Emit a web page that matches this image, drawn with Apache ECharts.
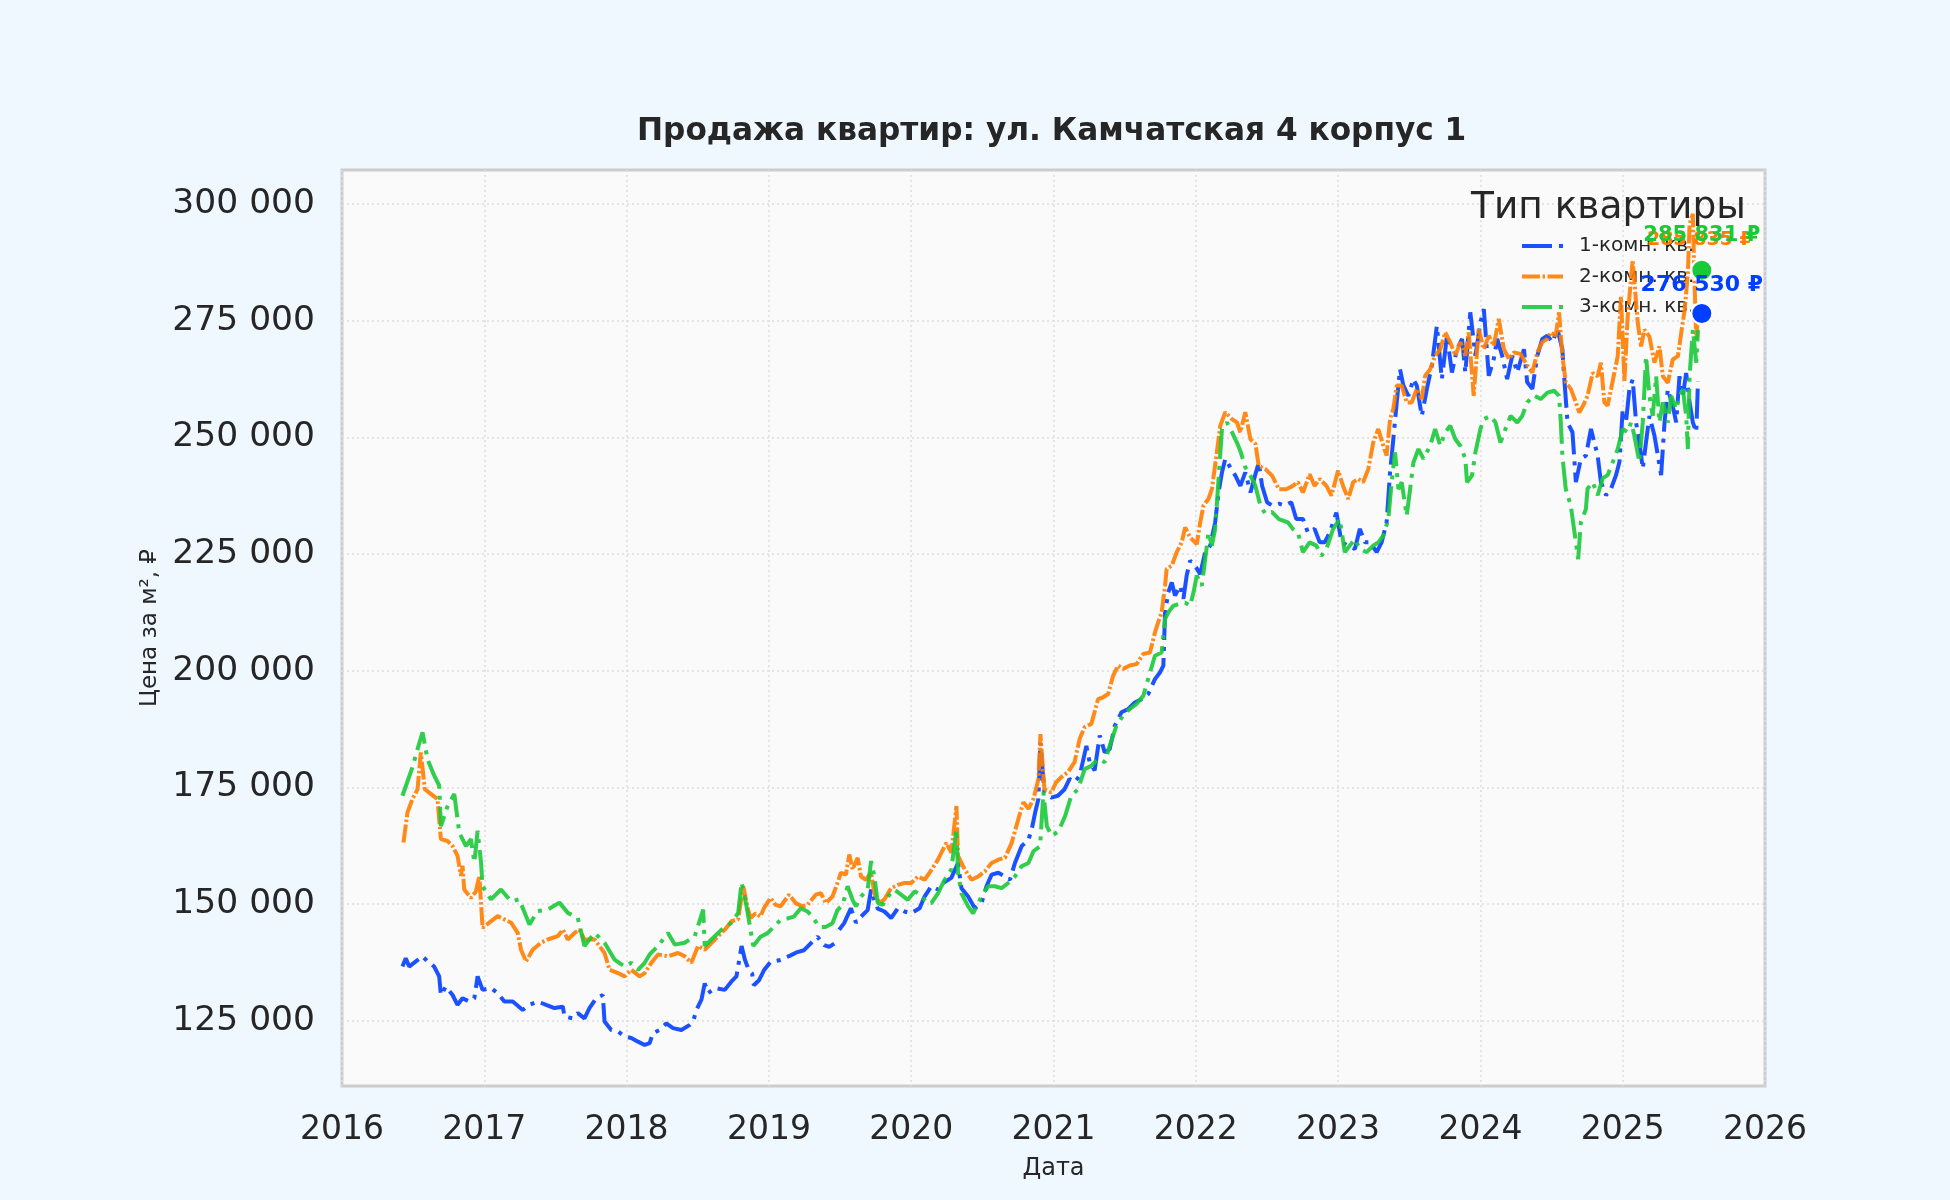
<!DOCTYPE html>
<html>
<head>
<meta charset="utf-8">
<title>Продажа квартир: ул. Камчатская 4 корпус 1</title>
<script src="https://cdn.jsdelivr.net/npm/echarts@6/dist/echarts.min.js"></script>
<style>
  html, body { margin: 0; padding: 0; background: #f0f8ff; }
  #chart { width: 1950px; height: 1200px; }
</style>
</head>
<body>
<div id="chart"></div>
<script>
// названия серий
var seriesNames = ['1-комн. кв.', '2-комн. кв.', '3-комн. кв.'];

// деления оси Y
var yTicks = [125000, 150000, 175000, 200000, 225000, 250000, 275000, 300000];

// 1-комн. кв. (годы в долях года, цена за м²)
var oneRoomYears = [
  2016.425, 2016.448, 2016.472, 2016.519, 2016.566, 2016.601, 2016.648, 2016.683, 2016.695, 2016.730,
  2016.777, 2016.812, 2016.847, 2016.894, 2016.930, 2016.953, 2016.988, 2017.047, 2017.094, 2017.141,
  2017.200, 2017.270, 2017.317, 2017.376, 2017.434, 2017.493, 2017.552, 2017.563, 2017.622, 2017.657,
  2017.704, 2017.739, 2017.786, 2017.833, 2017.845, 2017.892, 2017.939, 2017.986, 2018.033, 2018.080,
  2018.127, 2018.162, 2018.185, 2018.232, 2018.279, 2018.326, 2018.385, 2018.444, 2018.467, 2018.491,
  2018.526, 2018.549, 2018.573, 2018.620, 2018.690, 2018.737, 2018.772, 2018.808, 2018.831, 2018.859,
  2018.882, 2018.894, 2018.929, 2018.965, 2019.012, 2019.082, 2019.153, 2019.200, 2019.247, 2019.282,
  2019.341, 2019.388, 2019.424, 2019.459, 2019.480, 2019.494, 2019.529, 2019.576, 2019.612, 2019.647,
  2019.694, 2019.718, 2019.741, 2019.765, 2019.812, 2019.859, 2019.906, 2019.953, 2020.000, 2020.059,
  2020.094, 2020.141, 2020.188, 2020.224, 2020.282, 2020.329, 2020.353, 2020.400, 2020.447, 2020.494,
  2020.529, 2020.565, 2020.612, 2020.659, 2020.694, 2020.729, 2020.776, 2020.824, 2020.847, 2020.871,
  2020.894, 2020.908, 2020.936, 2020.984, 2021.031, 2021.078, 2021.113, 2021.148, 2021.184, 2021.231,
  2021.254, 2021.289, 2021.325, 2021.360, 2021.395, 2021.431, 2021.478, 2021.525, 2021.572, 2021.619,
  2021.666, 2021.713, 2021.748, 2021.772, 2021.784, 2021.807, 2021.831, 2021.854, 2021.889, 2021.913,
  2021.936, 2021.960, 2021.995, 2022.031, 2022.066, 2022.101, 2022.136, 2022.160, 2022.184, 2022.207,
  2022.242, 2022.278, 2022.313, 2022.348, 2022.384, 2022.419, 2022.442, 2022.466, 2022.501, 2022.536,
  2022.584, 2022.624, 2022.671, 2022.706, 2022.753, 2022.788, 2022.835, 2022.871, 2022.906, 2022.941,
  2022.988, 2023.024, 2023.071, 2023.118, 2023.153, 2023.188, 2023.224, 2023.271, 2023.306, 2023.341,
  2023.365, 2023.388, 2023.412, 2023.435, 2023.459, 2023.494, 2023.529, 2023.553, 2023.588, 2023.624,
  2023.659, 2023.694, 2023.729, 2023.765, 2023.800, 2023.835, 2023.871, 2023.894, 2023.929, 2023.965,
  2024.000, 2024.024, 2024.059, 2024.094, 2024.118, 2024.153, 2024.188, 2024.224, 2024.259, 2024.306,
  2024.329, 2024.365, 2024.400, 2024.435, 2024.471, 2024.506, 2024.541, 2024.576, 2024.588, 2024.612,
  2024.647, 2024.671, 2024.706, 2024.742, 2024.777, 2024.800, 2024.824, 2024.847, 2024.883, 2024.918,
  2024.953, 2024.977, 2025.000, 2025.023, 2025.047, 2025.070, 2025.094, 2025.117, 2025.141, 2025.164,
  2025.188, 2025.223, 2025.247, 2025.270, 2025.294, 2025.317, 2025.352, 2025.376, 2025.399, 2025.423,
  2025.446, 2025.470, 2025.493, 2025.517, 2025.529
];
var oneRoomPrices = [
  136600, 138400, 136600, 137700, 138800, 137700, 136600, 134500, 130500, 132300,
  130500, 128400, 129800, 129100, 129800, 134500, 131600, 132000, 130900, 129100,
  129100, 127300, 128400, 129100, 128400, 127700, 128000, 125900, 125500, 126600,
  125500, 127700, 129800, 130500, 124800, 123000, 122700, 121600, 121300, 120500,
  119800, 120200, 122300, 123000, 124400, 123400, 123000, 124100, 124800, 127300,
  129500, 133000, 130900, 132000, 131600, 133400, 134500, 141000, 138100, 135800,
  135100, 132600, 133600, 135800, 137600, 138000, 139000, 139700, 140100, 141200,
  143000, 141200, 140800, 141500, null, 144500, 145900, 149100, 146000, 147300,
  148700, 153100, 150900, 149000, 148400, 147000, 149100, 148400, 148000, 149100,
  151600, 153800, 153100, 154500, 155600, 158800, 153400, 151600, 149100, 150200,
  153800, 156300, 156700, 155900, 155200, 158800, 162400, 163800, 166000, 169600,
  172500, 184600, 173900, 172800, 173200, 174600, 176800, 176100, 177500, 183900,
  180400, 178600, 186100, 182500, 183200, 188200, 191100, 191800, 193200, 193900,
  195000, 198200, 199600, 201100, 212500, 216800, 218900, 216100, 218200, 215400,
  220400, 223600, 222500, 220700, 225400, 226800, 231800, 238200, 242500, 245400,
  243600, 241800, 239600, 242500, 238200, 242100, 244600, 239600, 236100, 235400,
  235800, 235400, 236100, 232500, 232500, 229600, 230400, 227500, 227500, 229600,
  233900, 227500, 226800, 226100, 230400, 227500, 227500, 225400, 227500, 231800,
  242500, 249600, 257500, 264600, 261100, 258900, 262500, 261100, 254600, 260400,
  265400, 273900, 262500, 271800, 263900, 268900, 271100, 263900, 276800, 267500,
  274600, 277500, 263200, 266800, 271100, 267500, 262500, 267500, 263900, 268900,
  261800, 260400, 267500, 271100, 271800, 270400, 273200, 268900, 263200, 253200,
  251100, 240400, 245400, 246100, 251800, 249000, 246100, 240400, 237600, 239000,
  241900, 244700, 256000, 253200, 260300, 262400, 253200, 249000, 243300, 249000,
  254600, 250400, 246100, 241900, 253200, 260300, 256700, 253200, 263100, 258900,
  263800, 257500, 253200, 251100, 262000
];

// 2-комн. кв.
var twoRoomYears = [
  2016.432, 2016.460, 2016.495, 2016.531, 2016.554, 2016.582, 2016.624, 2016.671, 2016.695, 2016.742,
  2016.777, 2016.812, 2016.836, 2016.847, 2016.859, 2016.906, 2016.941, 2016.965, 2016.988, 2017.035,
  2017.094, 2017.141, 2017.188, 2017.235, 2017.258, 2017.293, 2017.340, 2017.399, 2017.446, 2017.516,
  2017.552, 2017.587, 2017.634, 2017.669, 2017.704, 2017.775, 2017.845, 2017.880, 2017.939, 2017.986,
  2018.033, 2018.092, 2018.127, 2018.174, 2018.221, 2018.291, 2018.362, 2018.408, 2018.455, 2018.502,
  2018.549, 2018.620, 2018.690, 2018.737, 2018.784, 2018.819, 2018.854, 2018.871, 2018.906, 2018.941,
  2018.965, 2019.012, 2019.047, 2019.082, 2019.141, 2019.188, 2019.235, 2019.271, 2019.329, 2019.365,
  2019.400, 2019.447, 2019.482, 2019.506, 2019.541, 2019.565, 2019.588, 2019.624, 2019.647, 2019.682,
  2019.718, 2019.741, 2019.776, 2019.812, 2019.859, 2019.906, 2019.953, 2020.000, 2020.047, 2020.094,
  2020.129, 2020.188, 2020.247, 2020.282, 2020.318, 2020.329, 2020.376, 2020.424, 2020.471, 2020.518,
  2020.565, 2020.612, 2020.659, 2020.706, 2020.753, 2020.788, 2020.824, 2020.859, 2020.894, 2020.908,
  2020.936, 2020.984, 2021.019, 2021.066, 2021.101, 2021.148, 2021.184, 2021.219, 2021.266, 2021.313,
  2021.348, 2021.384, 2021.419, 2021.454, 2021.489, 2021.536, 2021.584, 2021.631, 2021.678, 2021.713,
  2021.736, 2021.760, 2021.784, 2021.795, 2021.831, 2021.866, 2021.901, 2021.925, 2021.960, 2022.007,
  2022.031, 2022.054, 2022.089, 2022.113, 2022.148, 2022.172, 2022.207, 2022.254, 2022.289, 2022.313,
  2022.348, 2022.384, 2022.419, 2022.442, 2022.489, 2022.536, 2022.584, 2022.635, 2022.682, 2022.718,
  2022.753, 2022.800, 2022.835, 2022.871, 2022.918, 2022.953, 2023.000, 2023.035, 2023.071, 2023.106,
  2023.141, 2023.176, 2023.212, 2023.247, 2023.282, 2023.318, 2023.341, 2023.365, 2023.388, 2023.412,
  2023.447, 2023.482, 2023.518, 2023.553, 2023.588, 2023.612, 2023.647, 2023.682, 2023.718, 2023.753,
  2023.788, 2023.824, 2023.859, 2023.894, 2023.918, 2023.953, 2023.988, 2024.024, 2024.059, 2024.094,
  2024.129, 2024.165, 2024.200, 2024.235, 2024.282, 2024.329, 2024.365, 2024.400, 2024.435, 2024.471,
  2024.494, 2024.529, 2024.553, 2024.576, 2024.600, 2024.635, 2024.671, 2024.695, 2024.730, 2024.753,
  2024.789, 2024.824, 2024.847, 2024.871, 2024.894, 2024.918, 2024.941, 2024.965, 2024.988, 2025.012,
  2025.035, 2025.070, 2025.106, 2025.129, 2025.153, 2025.188, 2025.223, 2025.258, 2025.282, 2025.317,
  2025.352, 2025.388, 2025.411, 2025.435, 2025.458, 2025.470, 2025.493, 2025.505, 2025.517, 2025.529
];
var twoRoomPrices = [
  163200, 169600, 172500, 174600, 182500, 174600, 173600, 172500, 163900, 163500,
  162400, 160300, 156000, 158200, 153100, 151300, 152700, 156000, 144900, 146000,
  147400, 146700, 146000, 143800, 140200, 137700, 140200, 141700, 142400, 143100,
  144500, 142400, 143800, 144500, 142400, 142400, 139500, 135900, 135200, 134500,
  135900, 134500, 135200, 137400, 139200, 138800, 139500, 138800, 137400, 141000,
  140200, 142400, 144500, 146300, 146700, 153800, 148800, 147000, 148000, 147300,
  149100, 151300, 149800, 149500, 152000, 150200, 149500, 149800, 152000, 152300,
  150200, 151600, 154500, 156700, 156300, 160600, 157400, 159900, 155900, 155200,
  156700, 152300, 150200, 151000, 153400, 154100, 154500, 154500, 155900, 155200,
  156700, 159500, 163100, 161000, 171000, 160300, 157400, 155200, 155900, 157000,
  158800, 159500, 159900, 163100, 168200, 171800, 170400, 172500, 176800, 186400,
  174600, 173900, 176100, 177500, 178200, 180400, 185400, 187900, 188600, 193900,
  194300, 195000, 198900, 201100, 200400, 201100, 201400, 203600, 203900, 208200,
  210400, 212500, 218200, 221800, 222500, 225400, 227500, 230700, 228600, 227100,
  231800, 235400, 236800, 238900, 246800, 252500, 255400, 253900, 253200, 251100,
  255400, 249600, 248600, 243900, 243200, 241800, 238900, 238900, 239600, 240400,
  238200, 242100, 239600, 241100, 239600, 237500, 242900, 239600, 236800, 240400,
  241100, 240400, 243200, 248900, 251800, 248200, 246100, 253900, 256100, 261100,
  261100, 257500, 257500, 260400, 258200, 263200, 264600, 267500, 268900, 272500,
  270400, 267500, 270400, 267500, 272500, 258900, 273200, 268900, 271800, 269600,
  275400, 268900, 266800, 268200, 267900, 265400, 263900, 268200, 270400, 271100,
  272500, 271800, 276800, 267500, 261800, 260400, 257500, 255300, 257300, 258900,
  263800, 263100, 266000, 257500, 256800, 260300, 263800, 267400, 280100, 262000,
  275900, 288000, 274500, 269500, 273100, 271600, 266000, 269500, 263100, 261700,
  266700, 267400, 272300, 277300, 285100, 295700, 297900, 283000, 270900, 276000
];

// 3-комн. кв.
var threeRoomYears = [
  2016.425, 2016.495, 2016.531, 2016.566, 2016.601, 2016.648, 2016.683, 2016.695, 2016.742, 2016.789,
  2016.824, 2016.871, 2016.906, 2016.930, 2016.953, 2016.977, 2016.988, 2017.047, 2017.117, 2017.188,
  2017.246, 2017.317, 2017.376, 2017.446, 2017.528, 2017.587, 2017.657, 2017.704, 2017.775, 2017.845,
  2017.915, 2017.986, 2018.033, 2018.080, 2018.127, 2018.162, 2018.221, 2018.291, 2018.338, 2018.408,
  2018.479, 2018.538, 2018.549, 2018.596, 2018.667, 2018.737, 2018.784, 2018.808, 2018.843, 2018.890,
  2018.941, 2018.988, 2019.035, 2019.082, 2019.129, 2019.176, 2019.224, 2019.271, 2019.306, 2019.353,
  2019.400, 2019.447, 2019.482, 2019.518, 2019.553, 2019.588, 2019.612, 2019.647, 2019.694, 2019.718,
  2019.741, 2019.765, 2019.800, 2019.835, 2019.882, 2019.929, 2019.976, 2020.024, 2020.071, 2020.106,
  2020.141, 2020.188, 2020.235, 2020.282, 2020.318, 2020.329, 2020.353, 2020.400, 2020.435, 2020.471,
  2020.506, 2020.541, 2020.588, 2020.635, 2020.682, 2020.729, 2020.776, 2020.824, 2020.859, 2020.906,
  2020.929, 2020.953, 2020.988, 2021.035, 2021.082, 2021.125, 2021.172, 2021.219, 2021.266, 2021.313,
  2021.360, 2021.395, 2021.442, 2021.489, 2021.536, 2021.584, 2021.631, 2021.678, 2021.713, 2021.760,
  2021.784, 2021.807, 2021.842, 2021.878, 2021.925, 2021.960, 2021.984, 2022.007, 2022.042, 2022.066,
  2022.089, 2022.113, 2022.136, 2022.160, 2022.184, 2022.219, 2022.254, 2022.289, 2022.313, 2022.348,
  2022.384, 2022.419, 2022.454, 2022.489, 2022.536, 2022.584, 2022.647, 2022.682, 2022.718, 2022.753,
  2022.800, 2022.847, 2022.882, 2022.918, 2022.965, 2023.012, 2023.047, 2023.082, 2023.118, 2023.153,
  2023.200, 2023.247, 2023.282, 2023.318, 2023.353, 2023.376, 2023.400, 2023.424, 2023.447, 2023.482,
  2023.506, 2023.529, 2023.565, 2023.600, 2023.647, 2023.682, 2023.718, 2023.753, 2023.788, 2023.824,
  2023.859, 2023.894, 2023.906, 2023.941, 2023.965, 2024.000, 2024.024, 2024.071, 2024.106, 2024.141,
  2024.176, 2024.212, 2024.259, 2024.294, 2024.329, 2024.376, 2024.424, 2024.471, 2024.518, 2024.553,
  2024.565, 2024.576, 2024.600, 2024.635, 2024.671, 2024.687, 2024.706, 2024.741, 2024.753, 2024.789,
  2024.824, 2024.859, 2024.894, 2024.930, 2024.965, 2025.000, 2025.035, 2025.059, 2025.082, 2025.117,
  2025.141, 2025.164, 2025.188, 2025.211, 2025.235, 2025.258, 2025.282, 2025.317, 2025.341, 2025.376,
  2025.399, 2025.423, 2025.446, 2025.458, 2025.470, 2025.493, 2025.517, 2025.529
];
var threeRoomPrices = [
  173200, 179300, 183200, 186800, 181000, 177500, 175400, 166700, 171000, 173600,
  165300, 162400, 163900, 158900, 165700, 158900, 153800, 151000, 153100, 150600,
  151000, 145600, 148500, 148800, 150300, 148100, 147000, 141000, 143800, 141700,
  138100, 136600, 137400, 135900, 137400, 139200, 141000, 143800, 141300, 141700,
  143100, 148800, 141000, 142400, 144500, 146000, 148100, 154600, 149500, 141000,
  143000, 143700, 145100, 146600, 146900, 147300, 149100, 148400, 147300, 145100,
  145100, 145900, 148700, 149800, 153800, 150900, 149500, 151600, 153100, 159200,
  155900, 150200, 149800, 151600, 153100, 152000, 150900, 152700, 152000, 150200,
  150200, 152300, 155200, 157400, 166000, 156700, 152300, 149500, 148000, 150200,
  152300, 153800, 153800, 153400, 154500, 155900, 158100, 158800, 161300, 162400,
  174000, 166700, 164600, 165600, 168900, 173200, 174600, 178900, 179600, 181100,
  180400, 183900, 188200, 190400, 191800, 192900, 194600, 199600, 203200, 203900,
  211100, 212500, 213900, 214300, 214600, 213900, 216800, 220400, 218200, 223900,
  229600, 226800, 230400, 241100, 251800, 253200, 251100, 248900, 247100, 243600,
  241800, 239600, 235400, 233600, 234000, 232500, 231800, 230400, 229600, 225400,
  227500, 226800, 224600, 226100, 230400, 232500, 225400, 226800, 228200, 226100,
  225400, 226800, 227500, 228900, 232500, 240400, 246800, 238900, 240400, 233200,
  238900, 244600, 247500, 245400, 248200, 251800, 248200, 251100, 252500, 249600,
  248200, 245400, 240400, 241800, 246800, 251800, 253900, 254600, 253200, 248900,
  251800, 254600, 253200, 254600, 257500, 259000, 258200, 259600, 260000, 258900,
  253200, 246100, 238900, 235400, 227500, 223900, 231800, 234600, 239000, 240400,
  237600, 241200, 241900, 244700, 247500, 251800, 251100, 253200, 250400, 244700,
  253200, 267400, 258900, 254600, 263100, 253200, 257500, 253200, 258900, 256000,
  258900, 260300, 254600, 247500, 263100, 273100, 266000, 273000
];

// последние цены (точки с подписями)
var lastYear = 2025.556;
var lastPrices = [276530, 285835, 285831];

var lineColors = ['rgba(2, 62, 255, 0.9)', 'rgba(255, 124, 0, 0.9)', 'rgba(26, 201, 56, 0.9)'];
var dotColors = ['#023eff', '#ff7c00', '#1ac938'];
var dashes = [[30, 7, 4, 7], [18, 2.5, 2.5, 2.5], [30, 7, 4, 7]];

function fmt(v) {
  return String(Math.round(v)).replace(/\B(?=(\d{3})+(?!\d))/g, ' ');
}

function zip(xs, ys) {
  return xs.map(function (x, i) { return [x, ys[i] == null ? '-' : ys[i]]; });
}

var font = 'DejaVu Sans';
var textColor = '#262626';

var lineData = [
  zip(oneRoomYears, oneRoomPrices),
  zip(twoRoomYears, twoRoomPrices),
  zip(threeRoomYears, threeRoomPrices)
];

var series = [];
seriesNames.forEach(function (name, i) {
  series.push({
    name: name,
    type: 'line',
    data: lineData[i],
    symbol: 'none',
    showSymbol: false,
    connectNulls: false,
    z: 2,
    itemStyle: { color: lineColors[i] },
    lineStyle: { color: lineColors[i], width: 4, type: dashes[i] }
  });
});

// подписи последней цены: размеры и смещения подобраны по картинке
var labelDist = [5.5, 9, 12.5];
var labelShift = [[0, 0], [-2, 0], [0, 0]];
var labelSize = [22, 19, 21];
seriesNames.forEach(function (name, i) {
  series.push({
    name: name + ' последняя',
    type: 'scatter',
    data: [[lastYear, lastPrices[i]]],
    symbol: 'circle',
    symbolSize: 21,
    z: 5,
    itemStyle: { color: dotColors[i], borderColor: '#ffffff', borderWidth: 2, opacity: 1 },
    label: {
      show: true,
      position: 'top',
      distance: labelDist[i],
      offset: labelShift[i],
      formatter: function (p) { return fmt(p.value[1]) + ' ₽'; },
      color: dotColors[i],
      fontFamily: font,
      fontWeight: 'bold',
      fontSize: labelSize[i]
    }
  });
});

var myChart = echarts.init(document.getElementById('chart'));
var option = {
  backgroundColor: '#f0f8ff',
  animation: false,
  title: [
    {
      text: 'Продажа квартир: ул. Камчатская 4 корпус 1',
      left: 637,
      top: 116,
      padding: 0,
      textStyle: { fontFamily: font, fontSize: 31.2, fontWeight: 'bold', color: textColor }
    },
    {
      text: 'Тип квартиры',
      left: 1471,
      top: 189,
      padding: 0,
      textStyle: { fontFamily: font, fontSize: 37.5, fontWeight: 'normal', color: textColor }
    }
  ],
  legend: {
    data: seriesNames,
    orient: 'vertical',
    left: 1520,
    top: 236,
    z: 1,
    padding: 0,
    itemWidth: 41,
    itemHeight: 20,
    itemGap: 10.5,
    itemStyle: { opacity: 0 },
    lineStyle: { width: 4 },
    textStyle: { fontFamily: font, fontSize: 20, color: textColor, padding: [0, 0, 0, 11] }
  },
  grid: {
    left: 342,
    right: 185,
    top: 170,
    bottom: 114,
    show: true,
    backgroundColor: '#fafafa',
    borderColor: '#cccccc',
    borderWidth: 3
  },
  xAxis: {
    type: 'value',
    min: 2016,
    max: 2026,
    interval: 1,
    name: 'Дата',
    nameLocation: 'middle',
    nameGap: 71,
    nameTextStyle: { fontFamily: font, fontSize: 24, color: textColor },
    axisLine: { show: false },
    axisTick: { show: false },
    axisLabel: {
      margin: 28,
      fontFamily: font,
      fontSize: 33,
      color: textColor,
      formatter: function (v) { return String(v); }
    },
    splitLine: { show: true, lineStyle: { color: '#dddddd', width: 1.5, type: [2, 3] } }
  },
  yAxis: {
    type: 'value',
    min: 111000,
    max: 307300,
    name: 'Цена за м², ₽',
    nameLocation: 'middle',
    nameGap: 175,
    nameTextStyle: { fontFamily: font, fontSize: 23, color: textColor },
    axisLine: { show: false },
    axisTick: { show: false, customValues: yTicks },
    axisLabel: {
      customValues: yTicks,
      margin: 27,
      fontFamily: font,
      fontSize: 34.5,
      color: textColor,
      formatter: function (v) { return fmt(v); }
    },
    splitLine: { show: true, lineStyle: { color: '#dddddd', width: 1.5, type: [2, 3] } }
  },
  series: series
};
myChart.setOption(option);
</script>
</body>
</html>
